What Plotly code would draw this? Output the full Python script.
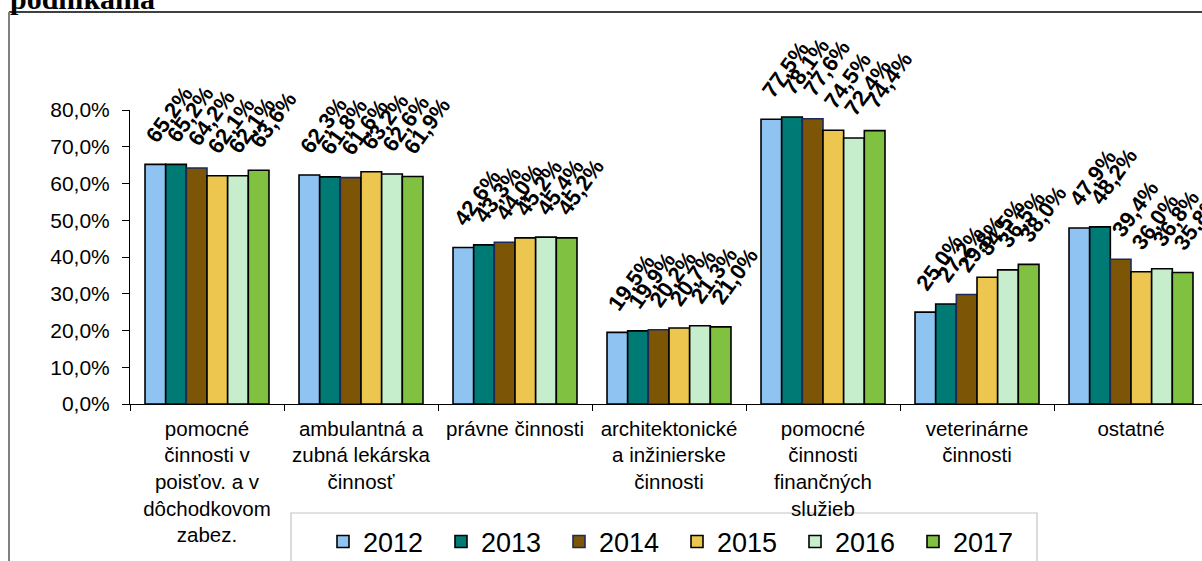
import plotly.graph_objects as go

# ── Data ──────────────────────────────────────────────────────────────────────
CATEGORIES = [
    "pomocné<br>činnosti v<br>poisťov. a v<br>dôchodkovom<br>zabez.",
    "ambulantná a<br>zubná lekárska<br>činnosť",
    "právne činnosti",
    "architektonické<br>a inžinierske<br>činnosti",
    "pomocné<br>činnosti<br>finančných<br>služieb",
    "veterinárne<br>činnosti",
    "ostatné",
]
YEARS = ["2012", "2013", "2014", "2015", "2016", "2017"]

V2012 = [65.2, 62.3, 42.6, 19.5, 77.5, 25.0, 47.9]
V2013 = [65.2, 61.8, 43.3, 19.9, 78.1, 27.2, 48.2]
V2014 = [64.2, 61.6, 44.0, 20.2, 77.6, 29.8, 39.4]
V2015 = [62.1, 63.2, 45.2, 20.7, 74.5, 34.5, 36.0]
V2016 = [62.1, 62.6, 45.4, 21.3, 72.4, 36.5, 36.8]
V2017 = [63.6, 61.9, 45.2, 21.0, 74.4, 38.0, 35.8]
SERIES = [V2012, V2013, V2014, V2015, V2016, V2017]

Y_TICKS = [0, 10, 20, 30, 40, 50, 60, 70, 80]

# ── Style ─────────────────────────────────────────────────────────────────────
COLORS = ["#8fc3f2", "#007a74", "#7c5606", "#ecc64e", "#c6eecd", "#80c142"]
EDGES = ["#000000", "#000000", "#1c2a5a", "#000000", "#000000", "#000000"]
FONT = "Liberation Sans, Arial, sans-serif"

W, H = 1202, 561
L, T, B = 130, 110, 157
PLOT_H = H - T - B
BARGAP = 0.195
N = len(YEARS)


def fmt(v):
    return f"{v:.1f}".replace(".", ",") + "%"


def px_x(px):
    return (px - L) / (W - L)


def px_y(py):
    return (H - B - py) / PLOT_H


fig = go.Figure()

for j, (year, vals) in enumerate(zip(YEARS, SERIES)):
    fig.add_trace(go.Bar(
        x=list(range(len(CATEGORIES))), y=vals, name=year,
        marker=dict(color=COLORS[j], line=dict(color=EDGES[j], width=1.6)),
    ))

# rotated value labels above each bar
bw = (1 - BARGAP) / N
for j, vals in enumerate(SERIES):
    for i, v in enumerate(vals):
        xc = i - (1 - BARGAP) / 2 + (j + 0.5) * bw
        fig.add_annotation(
            x=xc, y=v, text=fmt(v), showarrow=False, textangle=-54,
            xshift=14, yshift=50,
            font=dict(family=FONT, size=22, color="black", weight="bold"),
        )

# clipped title at top left
fig.add_annotation(
    xref="paper", yref="paper", x=px_x(8), y=px_y(-1),
    xanchor="left", yanchor="middle", showarrow=False,
    text="<b>podnikania</b>",
    font=dict(family="Liberation Serif, Times New Roman, serif", size=30, color="black"),
)

# chart area border and legend box
fig.add_shape(type="line", xref="paper", yref="paper",
              x0=px_x(9), x1=1.2, y0=px_y(12), y1=px_y(12),
              line=dict(color="black", width=1.5))
fig.add_shape(type="line", xref="paper", yref="paper",
              x0=px_x(9), x1=px_x(9), y0=px_y(12), y1=px_y(600),
              line=dict(color="#808080", width=2))
fig.add_shape(type="rect", xref="paper", yref="paper",
              x0=px_x(291), x1=px_x(1037), y0=px_y(513), y1=px_y(620),
              line=dict(color="#c4c4c4", width=1.2), fillcolor="white", layer="below")

fig.update_layout(
    width=W, height=H,
    margin=dict(l=L, r=0, t=T, b=B, autoexpand=False),
    paper_bgcolor="white", plot_bgcolor="white",
    barmode="group", bargap=BARGAP, bargroupgap=0,
    separators=", ",
    font=dict(family=FONT, color="black"),
    showlegend=True,
    legend=dict(
        orientation="h", xref="container", yref="container",
        x=323 / W, xanchor="left",
        y=1 - 542 / H, yanchor="middle",
        font=dict(family=FONT, size=27, color="black"),
        bgcolor="rgba(0,0,0,0)", borderwidth=0,
        itemwidth=30, entrywidth=73, entrywidthmode="pixels",
        traceorder="normal",
    ),
    xaxis=dict(
        range=[-0.5, len(CATEGORIES) - 0.5 - 6 / 154], automargin=False,
        tickvals=list(range(len(CATEGORIES))), ticktext=CATEGORIES,
        ticks="", showline=True, linecolor="black", linewidth=1,
        showgrid=False, zeroline=False, ticklabelstandoff=6,
        tickfont=dict(family=FONT, size=20.5, color="black"),
        minor=dict(tickvals=[k - 0.5 for k in range(len(CATEGORIES) + 1)],
                   ticks="outside", ticklen=6, tickcolor="black", tickwidth=1,
                   showgrid=False),
    ),
    yaxis=dict(
        range=[0, 80], automargin=False,
        tickvals=Y_TICKS, ticktext=[fmt(v) for v in Y_TICKS],
        ticks="outside", ticklen=7, tickcolor="black", tickwidth=1,
        showline=True, linecolor="black", linewidth=1,
        showgrid=False, zeroline=False, ticklabelstandoff=8,
        tickfont=dict(family=FONT, size=21, color="black"),
    ),
)

fig.write_html("out.html", config={"displayModeBar": False},
               post_script="document.body.style.margin='0';")
